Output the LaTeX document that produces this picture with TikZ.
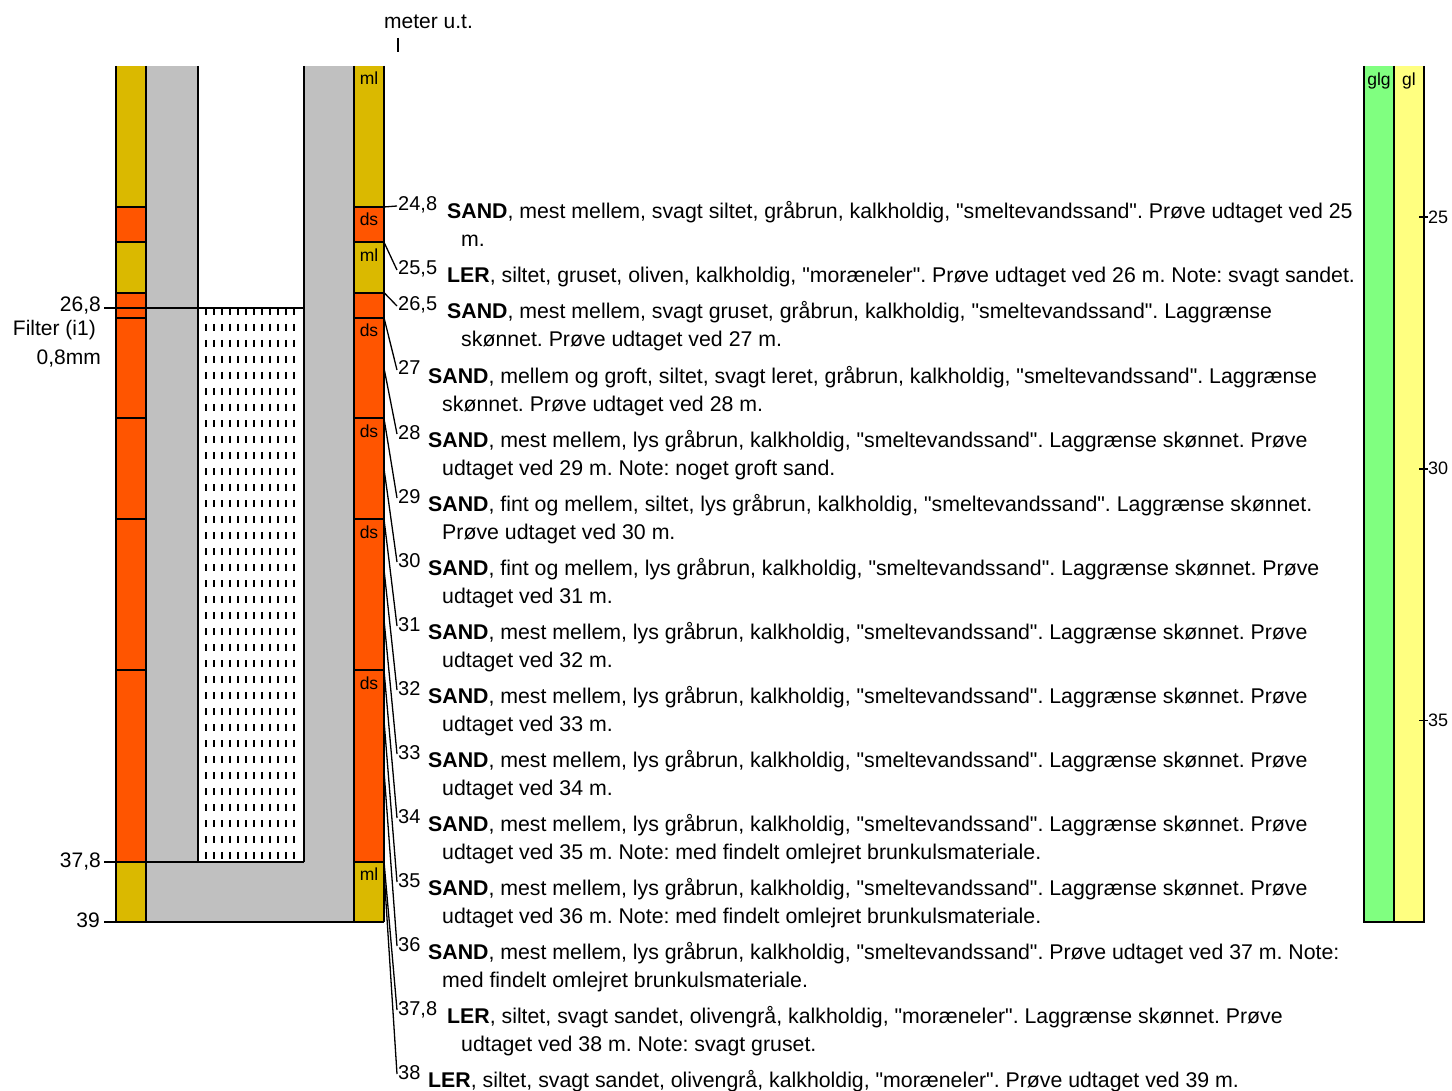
\documentclass[tikz,border=0pt]{standalone}
\usepackage{fontspec}
\setmainfont{Liberation Sans}[Ligatures=TeXOff]
\definecolor{mlclr}{RGB}{218,185,0}
\definecolor{dsclr}{RGB}{255,85,0}
\definecolor{casing}{RGB}{192,192,192}
\definecolor{glgclr}{RGB}{128,255,128}
\definecolor{glclr}{RGB}{255,255,128}
\pgfmathdeclarefunction{dy}{1}{\pgfmathparse{66+(#1-22)*50.35}}
\tikzset{
  txt/.style={anchor=base west, align=left, inner sep=0pt, font=\fontsize{21.3pt}{28pt}\selectfont},
  dlbl/.style={anchor=base west, inner sep=0pt, font=\fontsize{20pt}{24pt}\selectfont},
  lftlbl/.style={anchor=base east, inner sep=0pt, font=\fontsize{21pt}{24pt}\selectfont},
  strip/.style={anchor=north, inner sep=0pt, font=\fontsize{17.5pt}{20pt}\selectfont},
  axlbl/.style={anchor=west, inner sep=0pt, font=\fontsize{18pt}{20pt}\selectfont},
  thick line/.style={line width=2pt},
  conn/.style={line width=1.3pt}
}
\begin{document}
\frenchspacing
\begin{tikzpicture}[x=1pt,y=-1pt]
\useasboundingbox (0,0) rectangle (1452,1091);
% casing and filter
\fill[casing] (146,66) rectangle (354,922);
\fill[white] (198,66) rectangle (304,862);
\foreach \i in {0,...,11}
  \draw[line width=2pt, dash pattern=on 7pt off 9pt] ({206+8*\i},308) -- ({206+8*\i},862);
% layers
\foreach \a/\b/\c in {22/24.8/mlclr, 24.8/25.5/dsclr, 25.5/26.5/mlclr, 26.5/27/dsclr, 27/29/dsclr, 29/31/dsclr, 31/34/dsclr, 34/37.8/dsclr, 37.8/39/mlclr}{
  \fill[\c] (116,{dy(\a)}) rectangle (146,{dy(\b)});
  \fill[\c] (354,{dy(\a)}) rectangle (384,{dy(\b)});
}
\foreach \d in {24.8,25.5,26.5,27,29,31,34,37.8}{
  \draw[thick line] (116,{dy(\d)}) -- (146,{dy(\d)});
  \draw[thick line] (354,{dy(\d)}) -- (384,{dy(\d)});
}
\draw[thick line] (116,66) -- (116,922);
\draw[thick line] (146,66) -- (146,922);
\draw[thick line] (354,66) -- (354,922);
\draw[thick line] (384,66) -- (384,922);
\draw[thick line] (198,66) -- (198,862);
\draw[thick line] (304,66) -- (304,862);
\draw[thick line] (104,{dy(26.8)}) -- (304,{dy(26.8)});
\draw[thick line] (104,{dy(37.8)}) -- (304,{dy(37.8)});
\draw[thick line] (104,{dy(39)}) -- (384,{dy(39)});
\foreach \d/\l [count=\k] in {22/ml, 24.8/ds, 25.5/ml, 27/ds, 29/ds, 31/ds, 34/ds, 37.8/ml}
  \node[strip] (s\k) at (369,{dy(\d)+6}) {\l};
% left labels
\node[lftlbl] (l268) at (101,312) {26,8};
\node[lftlbl] (filt) at (96,336) {Filter (i1)};
\node[lftlbl] (fsize) at (101,365) {0,8mm};
\node[lftlbl] (l378) at (101,867) {37,8};
\node[lftlbl] (l39) at (100,927) {39};
% header
\node[anchor=base west, inner sep=0pt, font=\fontsize{21pt}{24pt}\selectfont] (unit) at (384,29) {meter u.t.};
\draw[thick line] (398,38) -- (398,52);
% right column
\fill[glgclr] (1364,66) rectangle (1394,922);
\fill[glclr] (1394,66) rectangle (1424,922);
\draw[thick line] (1364,66) -- (1364,922) -- (1424,922) -- (1424,66);
\draw[thick line] (1394,66) -- (1394,922);
\node[strip] (glg) at (1379,73) {glg};
\node[strip] (gl) at (1409,73) {gl};
\foreach \d in {25,30,35}{
  \draw[line width=1.5pt] (1419,{dy(\d)}) -- (1428,{dy(\d)});
  \node[axlbl] (ax\d) at (1428,{dy(\d)}) {\d};
}
% descriptions (base of a two-line node is its second line)
\node[dlbl] (d1) at (398,211) {24,8};
\node[txt] (t1) at (447,247) {\textbf{SAND}, mest mellem, svagt siltet, gråbrun, kalkholdig, "smeltevandssand". Prøve udtaget ved 25\\\hspace*{14pt}m.};
\node[dlbl] (d2) at (398,275) {25,5};
\node[txt] (t2) at (447,283) {\textbf{LER}, siltet, gruset, oliven, kalkholdig, "moræneler". Prøve udtaget ved 26 m. Note: svagt sandet.};
\node[dlbl] (d3) at (398,311) {26,5};
\node[txt] (t3) at (447,347) {\textbf{SAND}, mest mellem, svagt gruset, gråbrun, kalkholdig, "smeltevandssand". Laggrænse\\\hspace*{14pt}skønnet. Prøve udtaget ved 27 m.};
\node[dlbl] (d4) at (398,375) {27};
\node[txt] (t4) at (428,411) {\textbf{SAND}, mellem og groft, siltet, svagt leret, gråbrun, kalkholdig, "smeltevandssand". Laggrænse\\\hspace*{14pt}skønnet. Prøve udtaget ved 28 m.};
\node[dlbl] (d5) at (398,439) {28};
\node[txt] (t5) at (428,475) {\textbf{SAND}, mest mellem, lys gråbrun, kalkholdig, "smeltevandssand". Laggrænse skønnet. Prøve\\\hspace*{14pt}udtaget ved 29 m. Note: noget groft sand.};
\node[dlbl] (d6) at (398,503) {29};
\node[txt] (t6) at (428,539) {\textbf{SAND}, fint og mellem, siltet, lys gråbrun, kalkholdig, "smeltevandssand". Laggrænse skønnet.\\\hspace*{14pt}Prøve udtaget ved 30 m.};
\node[dlbl] (d7) at (398,567) {30};
\node[txt] (t7) at (428,603) {\textbf{SAND}, fint og mellem, lys gråbrun, kalkholdig, "smeltevandssand". Laggrænse skønnet. Prøve\\\hspace*{14pt}udtaget ved 31 m.};
\node[dlbl] (d8) at (398,631) {31};
\node[txt] (t8) at (428,667) {\textbf{SAND}, mest mellem, lys gråbrun, kalkholdig, "smeltevandssand". Laggrænse skønnet. Prøve\\\hspace*{14pt}udtaget ved 32 m.};
\node[dlbl] (d9) at (398,695) {32};
\node[txt] (t9) at (428,731) {\textbf{SAND}, mest mellem, lys gråbrun, kalkholdig, "smeltevandssand". Laggrænse skønnet. Prøve\\\hspace*{14pt}udtaget ved 33 m.};
\node[dlbl] (d10) at (398,759) {33};
\node[txt] (t10) at (428,795) {\textbf{SAND}, mest mellem, lys gråbrun, kalkholdig, "smeltevandssand". Laggrænse skønnet. Prøve\\\hspace*{14pt}udtaget ved 34 m.};
\node[dlbl] (d11) at (398,823) {34};
\node[txt] (t11) at (428,859) {\textbf{SAND}, mest mellem, lys gråbrun, kalkholdig, "smeltevandssand". Laggrænse skønnet. Prøve\\\hspace*{14pt}udtaget ved 35 m. Note: med findelt omlejret brunkulsmateriale.};
\node[dlbl] (d12) at (398,887) {35};
\node[txt] (t12) at (428,923) {\textbf{SAND}, mest mellem, lys gråbrun, kalkholdig, "smeltevandssand". Laggrænse skønnet. Prøve\\\hspace*{14pt}udtaget ved 36 m. Note: med findelt omlejret brunkulsmateriale.};
\node[dlbl] (d13) at (398,951) {36};
\node[txt] (t13) at (428,987) {\textbf{SAND}, mest mellem, lys gråbrun, kalkholdig, "smeltevandssand". Prøve udtaget ved 37 m. Note:\\\hspace*{14pt}med findelt omlejret brunkulsmateriale.};
\node[dlbl] (d14) at (398,1015) {37,8};
\node[txt] (t14) at (447,1051) {\textbf{LER}, siltet, svagt sandet, olivengrå, kalkholdig, "moræneler". Laggrænse skønnet. Prøve\\\hspace*{14pt}udtaget ved 38 m. Note: svagt gruset.};
\node[dlbl] (d15) at (398,1079) {38};
\node[txt] (t15) at (428,1087) {\textbf{LER}, siltet, svagt sandet, olivengrå, kalkholdig, "moræneler". Prøve udtaget ved 39 m.};
% connectors
\foreach \k/\d in {1/24.8, 2/25.5, 3/26.5, 4/27, 5/28, 6/29, 7/30, 8/31, 9/32, 10/33, 11/34, 12/35, 13/36, 14/37.8, 15/38}{
  \coordinate (e\k) at (384,{dy(\d)});
  \draw[conn] (e\k) -- ([xshift=-1pt,yshift=5pt]d\k.base west);
}
\end{tikzpicture}
\end{document}
